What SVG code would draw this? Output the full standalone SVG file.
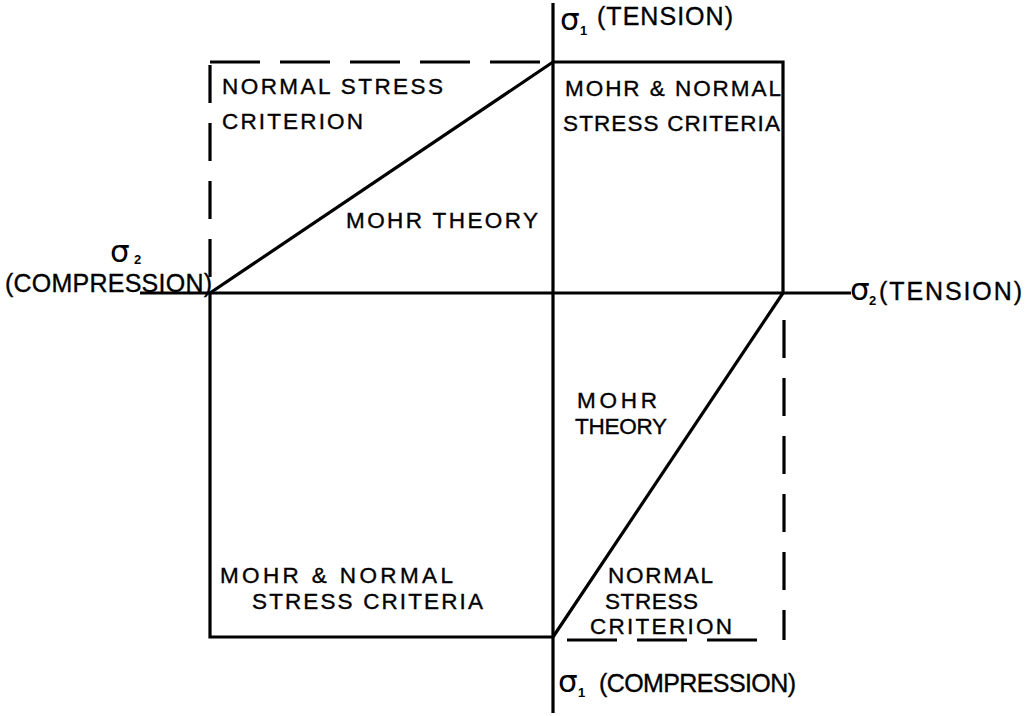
<svg xmlns="http://www.w3.org/2000/svg" width="1028" height="716" viewBox="0 0 1028 716">
<style>
.ln{stroke:#000;stroke-width:3.2;fill:none;stroke-linecap:butt}
.dh{stroke:#000;stroke-width:3.2;fill:none;stroke-dasharray:50 20}
.dv{stroke:#000;stroke-width:3.2;fill:none;stroke-dasharray:38 20}
.t{font-family:"Liberation Sans",Arial,sans-serif;font-size:22.5px;fill:#000;stroke:#000;stroke-width:0.35}
.a{font-family:"Liberation Sans",Arial,sans-serif;font-size:25px;fill:#000;stroke:#000;stroke-width:0.35}
.s{font-family:"DejaVu Sans","Liberation Sans",sans-serif;font-size:31px;fill:#000}
.sub{font-family:"Liberation Sans",Arial,sans-serif;font-size:13px;fill:#000;font-weight:bold}
</style>
<rect width="1028" height="716" fill="#fff"/>
<g id="connectors">
<line class="ln" x1="553" y1="3" x2="553" y2="713"/>
<line class="ln" x1="140" y1="293" x2="851" y2="293"/>
<line class="dh" x1="210" y1="62" x2="553" y2="62"/>
<polyline class="ln" points="553,62 783,62 783,293"/>
<line class="dv" x1="210" y1="65" x2="210" y2="293"/>
<polyline class="ln" points="210,293 210,637 553,637"/>
<line class="dh" x1="567" y1="640" x2="772" y2="640"/>
<line class="dv" x1="784" y1="320" x2="784" y2="640"/>
<line class="ln" x1="210" y1="293" x2="553" y2="62"/>
<line class="ln" x1="553" y1="637" x2="783" y2="293"/>
</g>
<g id="n-top-left">
<text class="t" x="222" y="94" textLength="221" lengthAdjust="spacing">NORMAL STRESS</text>
<text class="t" x="222" y="129" textLength="141" lengthAdjust="spacing">CRITERION</text>
</g>
<g id="n-top-right">
<text class="t" x="565" y="96" textLength="216" lengthAdjust="spacing">MOHR &amp; NORMAL</text>
<text class="t" x="563" y="131" textLength="217" lengthAdjust="spacing">STRESS CRITERIA</text>
</g>
<g id="n-mohr-upper">
<text class="t" x="346" y="228" textLength="192" lengthAdjust="spacing">MOHR THEORY</text>
</g>
<g id="n-mohr-lower">
<text class="t" x="577" y="408" textLength="80" lengthAdjust="spacing">MOHR</text>
<text class="t" x="575" y="434" textLength="92" lengthAdjust="spacing">THEORY</text>
</g>
<g id="n-bottom-left">
<text class="t" x="220" y="583" textLength="233" lengthAdjust="spacing">MOHR &amp; NORMAL</text>
<text class="t" x="252" y="609" textLength="231" lengthAdjust="spacing">STRESS CRITERIA</text>
</g>
<g id="n-bottom-right">
<text class="t" x="608" y="583" textLength="105" lengthAdjust="spacing">NORMAL</text>
<text class="t" x="605" y="609" textLength="93" lengthAdjust="spacing">STRESS</text>
<text class="t" x="590" y="634" textLength="142" lengthAdjust="spacing">CRITERION</text>
</g>
<g id="axis-top">
<text class="s" x="560" y="30">σ</text>
<text class="sub" x="580" y="35">1</text>
<text class="a" x="597" y="25" textLength="136" lengthAdjust="spacing">(TENSION)</text>
</g>
<g id="axis-left">
<text class="s" x="110" y="262">σ</text>
<text class="sub" x="134" y="264">2</text>
<text class="a" x="5" y="292" textLength="207" lengthAdjust="spacing">(COMPRESSION)</text>
</g>
<g id="axis-right">
<text class="s" x="850" y="300">σ</text>
<text class="sub" x="869" y="305">2</text>
<text class="a" x="879" y="300" textLength="143" lengthAdjust="spacing">(TENSION)</text>
</g>
<g id="axis-bottom">
<text class="s" x="558" y="692">σ</text>
<text class="sub" x="578" y="697">1</text>
<text class="a" x="599" y="692" textLength="197" lengthAdjust="spacing">(COMPRESSION)</text>
</g>
</svg>
